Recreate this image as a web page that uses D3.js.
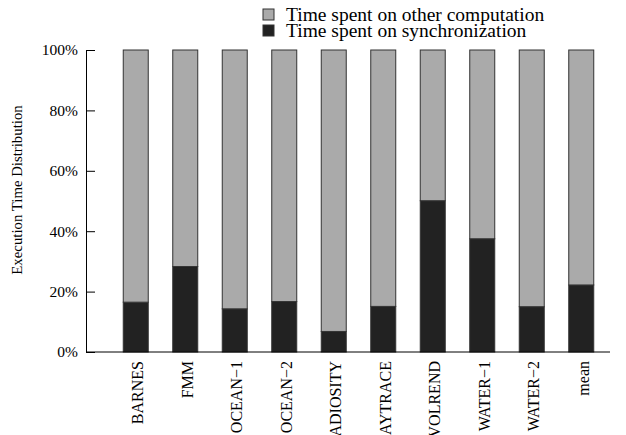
<!DOCTYPE html>
<html>
<head>
<meta charset="UTF-8">
<title>Execution Time Distribution</title>
<script src="https://d3js.org/d3.v7.min.js"></script>
<style>
  body { margin: 0; background: #fff; }
  svg { display: block; }
</style>
</head>
<body>
<div id="chart"></div>
<script>
  const benchmarks = ["BARNES", "FMM", "OCEAN\u22121", "OCEAN\u22122", "RADIOSITY", "RAYTRACE",
                      "VOLREND", "WATER\u22121", "WATER\u22122", "mean"];
  // % of time spent on synchronization
  const syncPct = [16.5, 28.3, 14.3, 16.7, 6.8, 15.1, 50.1, 37.5, 15.0, 22.2];
  // % of time spent on other computation
  const otherPct = syncPct.map(v => 100 - v);
  const yTicks = [0, 20, 40, 60, 80, 100];
  const seriesNames = ["Time spent on other computation", "Time spent on synchronization"];
  const seriesColors = ["#aaaaaa", "#222222"];

  const FONT = "'Liberation Serif', 'DejaVu Serif', serif";
  const W = 626, H = 435;
  const svg = d3.select("#chart").append("svg")
    .attr("width", W).attr("height", H);

  const plotLeft = 86, plotBottom = 352, plotTop = 50, plotRight = 610;

  const x = d3.scaleBand()
    .domain(benchmarks)
    .range([111, 606])
    .paddingInner(0.495)
    .paddingOuter(0.2475);

  const y = d3.scaleLinear().domain([0, 100]).range([plotBottom, plotTop]);

  const rows = benchmarks.map((b, i) => ({ name: b, sync: syncPct[i], other: otherPct[i] }));
  const stacked = d3.stack().keys(["sync", "other"])(rows);

  // bars
  svg.append("g").selectAll("g")
    .data(stacked)
    .join("g")
    .attr("fill", d => d.key === "sync" ? seriesColors[1] : seriesColors[0])
    .selectAll("rect")
    .data(d => d)
    .join("rect")
    .attr("x", d => x(d.data.name))
    .attr("y", d => y(d[1]))
    .attr("width", x.bandwidth())
    .attr("height", d => y(d[0]) - y(d[1]))
    .attr("stroke", "#333")
    .attr("stroke-width", 1);

  // y axis (ticks point inward)
  const yAxis = svg.append("g")
    .attr("transform", `translate(${plotLeft},0)`)
    .call(d3.axisLeft(y).tickValues(yTicks).tickSizeInner(-9).tickSizeOuter(0)
      .tickPadding(8).tickFormat(d => d + "%"));
  yAxis.select(".domain").attr("stroke", "#000");
  yAxis.selectAll(".tick line").attr("stroke", "#000");
  yAxis.selectAll(".tick text")
    .attr("x", -8)
    .attr("fill", "#000")
    .style("font-family", FONT)
    .style("font-size", "15.5px");

  // x baseline
  svg.append("line")
    .attr("x1", plotLeft).attr("x2", plotRight)
    .attr("y1", plotBottom).attr("y2", plotBottom)
    .attr("stroke", "#000");

  // x labels (long names run past the bottom edge, as in the original)
  svg.append("g").selectAll("text")
    .data(benchmarks)
    .join("text")
    .attr("transform", d => `translate(${x(d) + x.bandwidth() / 2 + 2},${plotBottom + 9}) rotate(-90)`)
    .attr("text-anchor", "end")
    .attr("dy", "0.35em")
    .style("font-family", FONT)
    .style("font-size", "16px")
    .text(d => d);

  // y title
  svg.append("text")
    .attr("transform", `translate(17,${(plotTop + plotBottom) / 2 - 11}) rotate(-90)`)
    .attr("text-anchor", "middle")
    .attr("dy", "0.35em")
    .style("font-family", FONT)
    .style("font-size", "14.8px")
    .text("Execution Time Distribution");

  // legend
  const legend = svg.append("g").selectAll("g")
    .data(seriesNames)
    .join("g")
    .attr("transform", (d, i) => `translate(263,${9 + i * 16})`);
  legend.append("rect")
    .attr("width", 11).attr("height", 11)
    .attr("fill", (d, i) => seriesColors[i])
    .attr("stroke", "#333");
  legend.append("text")
    .attr("x", 23).attr("y", 12)
    .style("font-family", FONT)
    .style("font-size", "19.5px")
    .text(d => d);
</script>
</body>
</html>
